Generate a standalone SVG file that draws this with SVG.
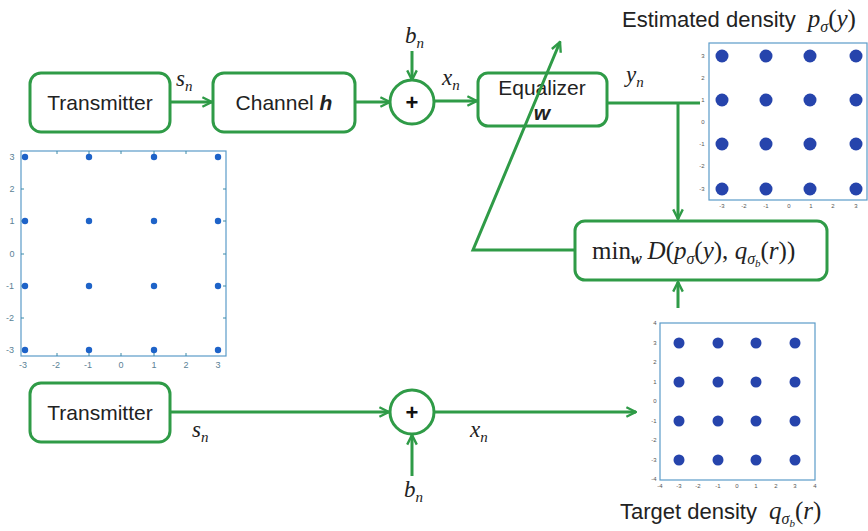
<svg xmlns="http://www.w3.org/2000/svg" width="868" height="531" viewBox="0 0 868 531">
<style>
.box{fill:#fff;stroke:#2f9b47;stroke-width:3}
.ln{fill:none;stroke:#2f9b47;stroke-width:3}
.lbl{font-family:"Liberation Sans",Arial,sans-serif;font-size:21px;fill:#222;text-anchor:middle}
.m{font-family:"Liberation Serif","Times New Roman",serif;font-size:23px;fill:#222}
.i{font-style:italic}
.s{font-size:15px}
.ss{font-size:10px}
.cap{font-family:"Liberation Sans",Arial,sans-serif;font-size:22px;fill:#222}
.plot{fill:#fff;stroke:#5b9bc8;stroke-width:1.2}
.tk{font-family:"Liberation Sans",Arial,sans-serif;font-size:6px;fill:#555;text-anchor:middle}
.tkl{font-family:"Liberation Sans",Arial,sans-serif;font-size:9px;fill:#5a7f96;text-anchor:middle}
.d1{fill:#1e63c8}
.d2{fill:#2644ac}
</style>
<defs>
<marker id="ah" viewBox="0 0 10 10" refX="9" refY="5" markerWidth="4" markerHeight="4" orient="auto" markerUnits="strokeWidth">
<path d="M1,1 L9,5 L1,9" fill="none" stroke="#2f9b47" stroke-width="2"/>
</marker>
</defs>
<rect width="868" height="531" fill="#fff"/>

<g id="tx1">
<rect class="box" x="30" y="73" width="140" height="59" rx="11"/>
<text class="lbl" x="100" y="110">Transmitter</text>
</g>
<g id="channel">
<rect class="box" x="213" y="73" width="142" height="59" rx="11"/>
<text class="lbl" x="284" y="110">Channel <tspan font-weight="bold" font-style="italic">h</tspan></text>
</g>
<g id="sum1">
<circle class="box" cx="412" cy="102" r="22"/>
<text x="412" y="110" font-family="Liberation Sans,Arial,sans-serif" font-size="22" font-weight="bold" text-anchor="middle" fill="#111">+</text>
</g>
<g id="equalizer">
<rect class="box" x="478" y="73" width="129" height="53" rx="10"/>
<text class="lbl" x="542" y="95">Equalizer</text>
<text class="lbl" x="542" y="120" font-weight="bold" font-style="italic">w</text>
</g>
<g id="minbox">
<rect class="box" x="575" y="221" width="252" height="59" rx="10"/>
<text class="m" x="592" y="259" style="font-size:25px">min<tspan class="i" style="font-size:16px" dy="5" font-weight="bold">w</tspan><tspan class="i" dy="-5" dx="6">D</tspan>(<tspan class="i">p</tspan><tspan class="i" style="font-size:16px" dy="5">σ</tspan><tspan dy="-5">(</tspan><tspan class="i">y</tspan>), <tspan class="i">q</tspan><tspan class="i" style="font-size:16px" dy="5">σ</tspan><tspan class="i" style="font-size:11px" dy="3">b</tspan><tspan dy="-8">(</tspan><tspan class="i">r</tspan>))</text>
</g>
<g id="tx2">
<rect class="box" x="30" y="383" width="140" height="59" rx="11"/>
<text class="lbl" x="100" y="420">Transmitter</text>
</g>
<g id="sum2">
<circle class="box" cx="412" cy="412" r="22"/>
<text x="412" y="420" font-family="Liberation Sans,Arial,sans-serif" font-size="22" font-weight="bold" text-anchor="middle" fill="#111">+</text>
</g>

<g id="connectors">
<line class="ln" x1="170" y1="102" x2="212" y2="102" marker-end="url(#ah)"/>
<line class="ln" x1="355" y1="102" x2="390" y2="102" marker-end="url(#ah)"/>
<line class="ln" x1="412" y1="51" x2="412" y2="80" marker-end="url(#ah)"/>
<line class="ln" x1="434" y1="101" x2="477" y2="101" marker-end="url(#ah)"/>
<polyline class="ln" points="607,103 700,103"/>
<line class="ln" x1="678" y1="103" x2="678" y2="219" marker-end="url(#ah)"/>
<polyline class="ln" points="575,250 473,250 560,42" marker-end="url(#ah)"/>
<line class="ln" x1="678" y1="308" x2="678" y2="282" marker-end="url(#ah)"/>
<line class="ln" x1="170" y1="412" x2="389" y2="412" marker-end="url(#ah)"/>
<line class="ln" x1="434" y1="412" x2="636" y2="412" marker-end="url(#ah)"/>
<line class="ln" x1="412" y1="476" x2="412" y2="435" marker-end="url(#ah)"/>
</g>

<g id="labels">
<text class="m i" x="176" y="86">s<tspan class="s" dy="5">n</tspan></text>
<text class="m i" x="405" y="43">b<tspan class="s" dy="5">n</tspan></text>
<text class="m i" x="442" y="85">x<tspan class="s" dy="5">n</tspan></text>
<text class="m i" x="626" y="82">y<tspan class="s" dy="5">n</tspan></text>
<text class="m i" x="192" y="437">s<tspan class="s" dy="5">n</tspan></text>
<text class="m i" x="470" y="437">x<tspan class="s" dy="5">n</tspan></text>
<text class="m i" x="404" y="497">b<tspan class="s" dy="5">n</tspan></text>
</g>

<g id="plot-source">
<rect class="plot" x="21" y="151" width="205" height="205" stroke="#3d8aa8"/>
<g stroke="#3d8aa8" stroke-width="1">
<path d="M57,151v3M89,151v3M121,151v3M154,151v3M186,151v3M57,356v-3M89,356v-3M121,356v-3M154,356v-3M186,356v-3M21,189h3M21,221h3M21,254h3M21,286h3M21,318h3M226,189h-3M226,221h-3M226,254h-3M226,286h-3M226,318h-3"/>
</g>
<g class="tkl">
<text x="12" y="160">3</text><text x="12" y="192">2</text><text x="12" y="224">1</text><text x="12" y="257">0</text><text x="10" y="289">-1</text><text x="10" y="321">-2</text><text x="10" y="353">-3</text>
<text x="23" y="368">-3</text><text x="56" y="368">-2</text><text x="88" y="368">-1</text><text x="121" y="368">0</text><text x="154" y="368">1</text><text x="186" y="368">2</text><text x="218" y="368">3</text>
</g>
<g class="d1">
<circle cx="25" cy="157" r="3.2"/><circle cx="89" cy="157" r="3.2"/><circle cx="154" cy="157" r="3.2"/><circle cx="218" cy="157" r="3.2"/>
<circle cx="25" cy="221" r="3.2"/><circle cx="89" cy="221" r="3.2"/><circle cx="154" cy="221" r="3.2"/><circle cx="218" cy="221" r="3.2"/>
<circle cx="25" cy="286" r="3.2"/><circle cx="89" cy="286" r="3.2"/><circle cx="154" cy="286" r="3.2"/><circle cx="218" cy="286" r="3.2"/>
<circle cx="25" cy="350" r="3.2"/><circle cx="89" cy="350" r="3.2"/><circle cx="154" cy="350" r="3.2"/><circle cx="218" cy="350" r="3.2"/>
</g>
</g>

<g id="plot-estimated">
<text class="cap" x="622" y="27">Estimated density <tspan dx="6" style="font-family:'Liberation Serif',serif;font-style:italic;font-size:25px">p</tspan><tspan style="font-family:'Liberation Serif',serif;font-style:italic;font-size:16px" dy="5">σ</tspan><tspan style="font-family:'Liberation Serif',serif;font-size:25px" dy="-5">(</tspan><tspan style="font-family:'Liberation Serif',serif;font-style:italic;font-size:25px">y</tspan><tspan style="font-family:'Liberation Serif',serif;font-size:25px">)</tspan></text>
<rect class="plot" x="709" y="43" width="158" height="157" stroke="#2b5d78"/>
<g class="tk">
<text x="703" y="58">3</text><text x="703" y="80">2</text><text x="703" y="102">1</text><text x="703" y="124">0</text><text x="702" y="146">-1</text><text x="702" y="168">-2</text><text x="702" y="191">-3</text>
<text x="722" y="208">-3</text><text x="744" y="208">-2</text><text x="766" y="208">-1</text><text x="789" y="208">0</text><text x="811" y="208">1</text><text x="833" y="208">2</text><text x="856" y="208">3</text>
</g>
<g class="d2">
<circle cx="722" cy="56" r="6.5"/><circle cx="766" cy="56" r="6.5"/><circle cx="810" cy="56" r="6.5"/><circle cx="856" cy="56" r="6.5"/>
<circle cx="722" cy="100" r="6.5"/><circle cx="766" cy="100" r="6.5"/><circle cx="810" cy="100" r="6.5"/><circle cx="856" cy="100" r="6.5"/>
<circle cx="722" cy="144" r="6.5"/><circle cx="766" cy="144" r="6.5"/><circle cx="810" cy="144" r="6.5"/><circle cx="856" cy="144" r="6.5"/>
<circle cx="722" cy="189" r="6.5"/><circle cx="766" cy="189" r="6.5"/><circle cx="810" cy="189" r="6.5"/><circle cx="856" cy="189" r="6.5"/>
</g>
</g>

<g id="plot-target">
<rect class="plot" x="660" y="323" width="155" height="157"/>
<g class="tk">
<text x="655" y="325">4</text><text x="655" y="345">3</text><text x="655" y="364">2</text><text x="655" y="384">1</text><text x="655" y="403">0</text><text x="654" y="423">-1</text><text x="654" y="442">-2</text><text x="654" y="462">-3</text><text x="654" y="481">-4</text>
<text x="660" y="488">-4</text><text x="679" y="488">-3</text><text x="698" y="488">-2</text><text x="718" y="488">-1</text><text x="737" y="488">0</text><text x="756" y="488">1</text><text x="776" y="488">2</text><text x="795" y="488">3</text><text x="815" y="488">4</text>
</g>
<g class="d2">
<circle cx="679" cy="343" r="5.5"/><circle cx="718" cy="343" r="5.5"/><circle cx="756" cy="343" r="5.5"/><circle cx="795" cy="343" r="5.5"/>
<circle cx="679" cy="382" r="5.5"/><circle cx="718" cy="382" r="5.5"/><circle cx="756" cy="382" r="5.5"/><circle cx="795" cy="382" r="5.5"/>
<circle cx="679" cy="421" r="5.5"/><circle cx="718" cy="421" r="5.5"/><circle cx="756" cy="421" r="5.5"/><circle cx="795" cy="421" r="5.5"/>
<circle cx="679" cy="460" r="5.5"/><circle cx="718" cy="460" r="5.5"/><circle cx="756" cy="460" r="5.5"/><circle cx="795" cy="460" r="5.5"/>
</g>
<text class="cap" x="620" y="519">Target density <tspan style="font-family:'Liberation Serif',serif;font-style:italic;font-size:25px" dx="6">q</tspan><tspan style="font-family:'Liberation Serif',serif;font-style:italic;font-size:16px" dy="5">σ</tspan><tspan style="font-family:'Liberation Serif',serif;font-style:italic;font-size:11px" dy="3">b</tspan><tspan style="font-family:'Liberation Serif',serif;font-size:25px" dy="-8">(</tspan><tspan style="font-family:'Liberation Serif',serif;font-style:italic;font-size:25px">r</tspan><tspan style="font-family:'Liberation Serif',serif;font-size:25px">)</tspan></text>
</g>
</svg>
